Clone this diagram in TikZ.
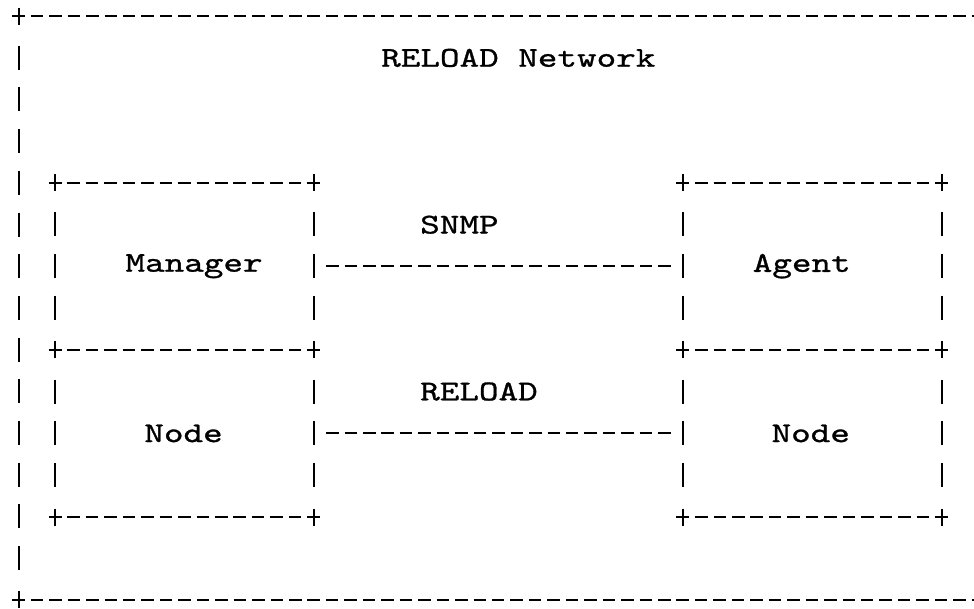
\documentclass[tikz,border=0pt]{standalone}
\usepackage{fontspec}
\newfontfamily\asciifont{lmmono10-regular}[Extension=.otf, FakeStretch=1.3, FakeBold=1]
\usetikzlibrary{positioning,calc}

\begin{document}
\begin{tikzpicture}
[x=1pt, y=-1pt, node distance=369pt,
block/.style = {shape=rectangle, minimum width=258.3pt, minimum height=166.8pt, inner sep=0pt},
txt/.style = {font=\asciifont\fontsize{28.7pt}{32pt}\selectfont, inner sep=0pt, anchor=base west},
boxtxt/.style = {txt, anchor=base},
hline/.style = {draw, line width=2pt, dash pattern=on 12.5pt off 5.95pt, shorten <=12.2pt, shorten >=12.2pt},
vline/.style = {draw, line width=2pt, dash pattern=on 24pt off 17.7pt, shorten <=29.7pt, shorten >=29.7pt},
corner/.pic = {\draw[line width=2pt] (-6.5,0) -- (6.5,0) (0,-8.5) -- (0,8.5);}]
\useasboundingbox (0,0) rectangle (974,608);

\coordinate (nw) at (18.5,16);
\coordinate (sw) at (18.5,599.8);
\coordinate (ne) at (996.4,16);
\coordinate (se) at (996.4,599.8);

\node [txt](title) at (381,66.7){RELOAD Network};

\node [block, label={[boxtxt, xshift=9.5pt]center:Manager}](manager) at (184.55,266.2){};
\node [block, below=0pt of manager, label={[boxtxt, xshift=-1pt]center:Node}](mnode){};
\node [block, right=of manager, label={[boxtxt, xshift=-10.5pt]center:Agent}](agent){};
\node [block, below=0pt of agent, label={[boxtxt, xshift=-1.5pt]center:Node}](anode){};

\node [txt](snmp) at (420,233.5){SNMP};
\node [txt](reload) at (420,400.3){RELOAD};

\path[hline]
(nw)edge(ne)(sw)edge(se)
(manager.north west)edge(manager.north east)
(manager.south west)edge(manager.south east)
(mnode.south west)edge(mnode.south east)
(agent.north west)edge(agent.north east)
(agent.south west)edge(agent.south east)
(anode.south west)edge(anode.south east)
(manager)edge(agent)(mnode)edge(anode)
;

\path[vline]
(nw)edge(sw)
(manager.north west)edge(manager.south west)(mnode.north west)edge(mnode.south west)
(manager.north east)edge(manager.south east)(mnode.north east)edge(mnode.south east)
(agent.north west)edge(agent.south west)(anode.north west)edge(anode.south west)
(agent.north east)edge(agent.south east)(anode.north east)edge(anode.south east)
;

\path (nw)pic{corner} (sw)pic{corner}
(manager.north west)pic{corner} (manager.north east)pic{corner}
(mnode.north west)pic{corner} (mnode.north east)pic{corner}
(mnode.south west)pic{corner} (mnode.south east)pic{corner}
(agent.north west)pic{corner} (agent.north east)pic{corner}
(anode.north west)pic{corner} (anode.north east)pic{corner}
(anode.south west)pic{corner} (anode.south east)pic{corner};

\end{tikzpicture}
\end{document}
